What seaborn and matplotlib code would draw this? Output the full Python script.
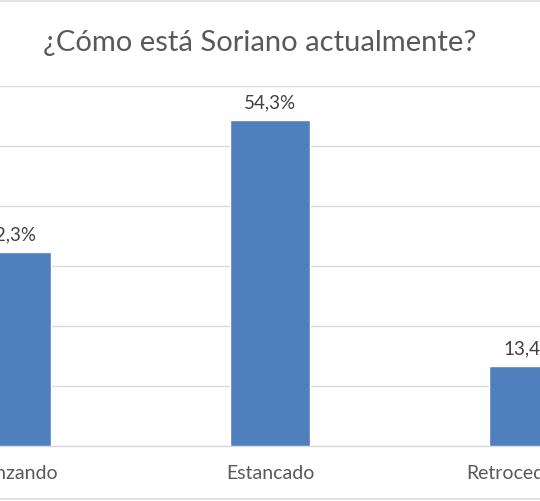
import matplotlib
matplotlib.use("Agg")
import matplotlib.pyplot as plt
import seaborn as sns
import pandas as pd
from matplotlib.lines import Line2D

categories = ["Avanzando", "Estancado", "Retrocediendo"]
values = [32.3, 54.3, 13.4]
title = "¿Cómo está Soriano actualmente?"

df = pd.DataFrame({"cat": categories, "val": values})

sns.set_theme(style="white")
plt.rcParams["font.family"] = ["Lato", "DejaVu Sans"]

fig = plt.figure(figsize=(5.4, 5.01), dpi=100)
ax = fig.add_axes([0, 55 / 501, 1, 360 / 501])

sns.barplot(data=df, x="cat", y="val", color="#4F7FBC", width=0.31,
            saturation=1, ax=ax, zorder=3)

ax.set_xlim(-0.04, 2.04)
ax.set_ylim(0, 60)
ax.set_yticks(range(0, 61, 10))
ax.yaxis.grid(True, color="#D9D9D9", linewidth=1)
ax.set_axisbelow(True)
for s in ["left", "right", "top"]:
    ax.spines[s].set_visible(False)
ax.spines["bottom"].set_color("#D9D9D9")
ax.spines["bottom"].set_linewidth(1)
ax.tick_params(axis="y", left=False, labelleft=False)
ax.tick_params(axis="x", bottom=False, labelsize=14, labelcolor="#595959", pad=8)
ax.set_xlabel("")
ax.set_ylabel("")

labels = [f"{v:.1f}%".replace(".", ",") for v in values]
ax.bar_label(ax.containers[0], labels=labels, padding=6, fontsize=13.5, color="#404040")

fig.text(0.48, 1 - 43 / 501, title, ha="center", va="center", fontsize=21, color="#595959")

fig.add_artist(Line2D([0, 1], [0.998, 0.998], transform=fig.transFigure, color="#DDDDDD", lw=1.2))
fig.add_artist(Line2D([0, 1], [0.003, 0.003], transform=fig.transFigure, color="#DDDDDD", lw=1.2))

fig.savefig("out.png", dpi=100, facecolor="white")
